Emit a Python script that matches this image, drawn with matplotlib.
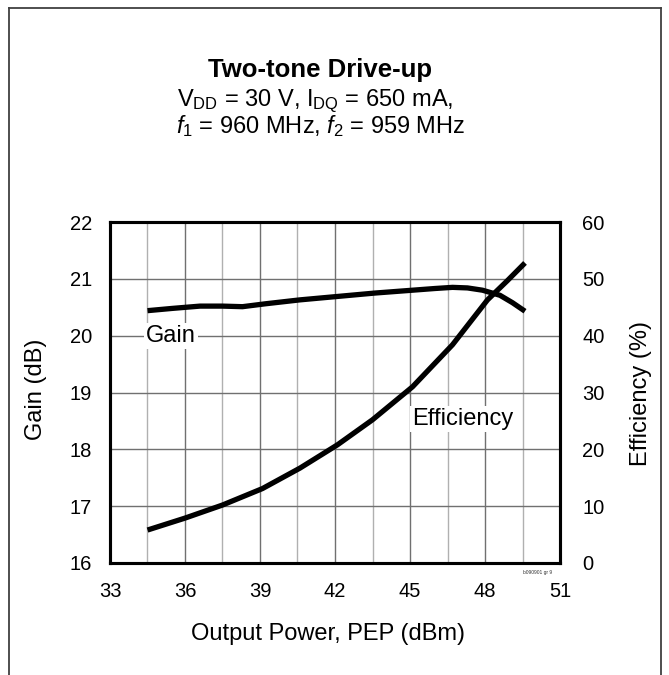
import numpy as np
import matplotlib
matplotlib.use("Agg")
import matplotlib.pyplot as plt
from matplotlib.lines import Line2D

plt.rcParams['font.family'] = ['Liberation Sans', 'DejaVu Sans']
plt.rcParams['mathtext.fontset'] = 'custom'
plt.rcParams['mathtext.rm'] = 'Liberation Sans'
plt.rcParams['mathtext.it'] = 'Liberation Sans:italic'
plt.rcParams['mathtext.bf'] = 'Liberation Sans:bold'

# ---- data ----
pout_gain = [34.5, 35.5, 36.6, 37.5, 38.3, 39.2, 40.6, 42.1, 43.6, 45.1, 46.0, 46.7, 47.3, 47.9, 48.6, 49.1, 49.6]
gain_db   = [20.44, 20.48, 20.52, 20.52, 20.51, 20.56, 20.63, 20.69, 20.75, 20.80, 20.83, 20.85, 20.84, 20.80, 20.71, 20.58, 20.43]

pout_eff  = [34.5, 36.0, 37.5, 39.1, 40.6, 42.1, 43.5, 45.1, 46.7, 48.1, 48.9, 49.6]
eff_pct   = [5.8, 7.9, 10.2, 13.1, 16.7, 20.8, 25.2, 31.0, 38.4, 46.3, 49.7, 52.8]

x_major = [33, 36, 39, 42, 45, 48, 51]
x_minor = [34.5, 37.5, 40.5, 43.5, 46.5, 49.5]
gain_ticks = [16, 17, 18, 19, 20, 21, 22]
eff_ticks = [0, 10, 20, 30, 40, 50, 60]

W, H = 669, 675
fig = plt.figure(figsize=(W/100, H/100), dpi=100)
ax = fig.add_axes([110/W, 1 - 563/H, 450/W, 341/H])

# grid: light minor verticals, darker majors
for xv in x_minor:
    ax.axvline(xv, color='#b0b0b0', lw=1.0, zorder=1)
for xv in x_major[1:-1]:
    ax.axvline(xv, color='#707070', lw=1.0, zorder=1)
for yv in gain_ticks[1:-1]:
    ax.axhline(yv, color='#707070', lw=1.0, zorder=1)

ax.plot(pout_gain, gain_db, color='black', lw=3.8, solid_capstyle='butt', zorder=4)
ax.set_xlim(33, 51)
ax.set_ylim(16, 22)
ax.set_xticks(x_major)
ax.set_yticks(gain_ticks)
ax.tick_params(axis='both', length=0, labelsize=14.5)
ax.tick_params(axis='x', pad=14)
ax.tick_params(axis='y', pad=13)
for s in ax.spines.values():
    s.set_linewidth(2.2)

ax2 = ax.twinx()
ax2.plot(pout_eff, eff_pct, color='black', lw=3.8, solid_capstyle='butt', zorder=4)
ax2.set_ylim(0, 60)
ax2.set_yticks(eff_ticks)
ax2.tick_params(axis='y', length=0, labelsize=14.5, pad=16)
for s in ax2.spines.values():
    s.set_linewidth(2.2)

ax.text(34.45, 20.0, 'Gain', fontsize=17, ha='left', va='center', zorder=3,
        bbox=dict(facecolor='white', edgecolor='none', pad=1.5))
ax2.text(45.1, 25.3, 'Efficiency', fontsize=17, ha='left', va='center', zorder=3,
         bbox=dict(facecolor='white', edgecolor='none', pad=1.5))
ax.text(50.7, 15.88, 'b090901 gr 9', fontsize=3.5, ha='right', va='top', color='#333333')

fig.text(36/W, 1 - 389/H, 'Gain (dB)', rotation=90, fontsize=17, ha='center', va='center')
fig.text(641/W, 1 - 393/H, 'Efficiency (%)', rotation=90, fontsize=17, ha='center', va='center')
fig.text(328/W, 1 - 640/H, 'Output Power, PEP (dBm)', fontsize=17, ha='center', va='baseline')

fig.text(320/W, 1 - 77/H, 'Two-tone Drive-up', fontsize=18.5, fontweight='bold', ha='center', va='baseline')
fig.text(315/W, 1 - 106/H, r'V$_{\mathrm{DD}}$ = 30 V, I$_{\mathrm{DQ}}$ = 650 mA,', fontsize=17, ha='center', va='baseline')
fig.text(321/W, 1 - 133/H, r'$\mathit{f}_{1}$ = 960 MHz, $\mathit{f}_{2}$ = 959 MHz', fontsize=17, ha='center', va='baseline')

# outer frame (open at bottom)
frame_c = '#404040'
for xs, ys in [([9, 9], [H, 8]), ([9, 661], [8, 8]), ([661, 661], [8, H])]:
    fig.add_artist(Line2D([x/W for x in xs], [1 - y/H for y in ys],
                          transform=fig.transFigure, color=frame_c, lw=1.3))

fig.savefig('out.png', dpi=100)
